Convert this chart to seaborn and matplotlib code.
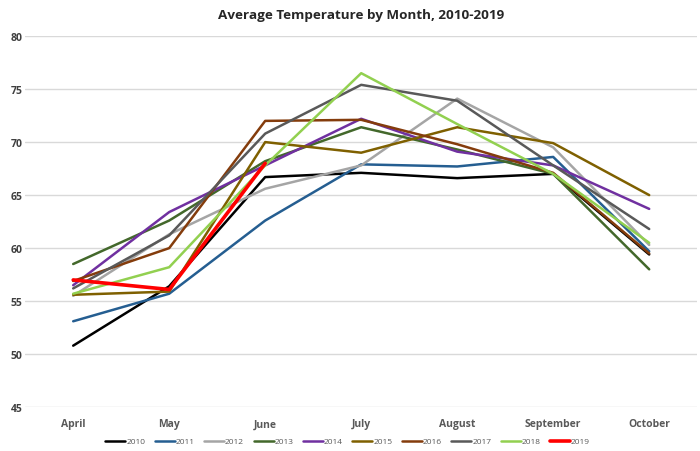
import pandas as pd
import numpy as np
import matplotlib
matplotlib.use('Agg')
import matplotlib.pyplot as plt
import seaborn as sns

sns.set_style('white')
plt.rcParams['font.family'] = ['Open Sans', 'DejaVu Sans']

months = ['April', 'May', 'June', 'July', 'August', 'September', 'October']
t2010 = [50.8, 56.4, 66.7, 67.1, 66.6, 67.0, 59.4]
t2011 = [53.1, 55.7, 62.6, 67.9, 67.7, 68.6, 59.7]
t2012 = [55.5, 61.3, 65.6, 67.8, 74.1, 69.5, 60.3]
t2013 = [58.5, 62.6, 68.2, 71.4, 69.3, 67.0, 58.0]
t2014 = [56.5, 63.4, 67.8, 72.2, 69.1, 67.8, 63.7]
t2015 = [55.6, 55.9, 70.0, 69.0, 71.4, 69.9, 65.0]
t2016 = [56.9, 60.0, 72.0, 72.1, 69.8, 67.1, 59.5]
t2017 = [56.2, 61.2, 70.8, 75.4, 73.9, 67.8, 61.8]
t2018 = [55.7, 58.2, 67.8, 76.5, 71.7, 67.0, 60.5]
t2019 = [57.0, 56.1, 68.0, np.nan, np.nan, np.nan, np.nan]
years = ['2010', '2011', '2012', '2013', '2014', '2015', '2016', '2017', '2018', '2019']
series = [t2010, t2011, t2012, t2013, t2014, t2015, t2016, t2017, t2018, t2019]
colors = ['#000000', '#255e91', '#a5a5a5', '#43682b', '#7030a0',
          '#7f6000', '#843c0c', '#595959', '#92d050', '#ff0000']

rows = []
for y, vals in zip(years, series):
    for m, v in zip(months, vals):
        rows.append({'month': m, 'year': y, 'temp': v})
df = pd.DataFrame(rows)
df['pos'] = df['month'].map({m: i for i, m in enumerate(months)})

fig = plt.figure(figsize=(7, 4.52), dpi=100)
ax = fig.add_axes([0.036, 0.097, 0.96, 0.821])
for y, c in zip(years, colors):
    sub = df[df['year'] == y].dropna()
    sns.lineplot(data=sub, x='pos', y='temp', color=c, label=y, ax=ax,
                 linewidth=2.6 if y == '2019' else 1.8, sort=False)

ax.set_xlim(-0.5, 6.5)
ax.set_ylim(45, 80)
ax.set_xticks(range(len(months)))
ax.set_xticklabels(months, fontsize=7.5, fontweight='bold', color='#595959')
ax.set_yticks(range(45, 81, 5))
ax.tick_params(axis='y', labelsize=7.5, colors='#404040', pad=2)
ax.tick_params(axis='x', pad=8)
for lbl in ax.get_yticklabels():
    lbl.set_fontweight('bold')
ax.tick_params(axis='both', length=0)
ax.set_xlabel('')
ax.set_ylabel('')
ax.grid(axis='y', color='#d9d9d9', linewidth=1)
ax.set_axisbelow(True)
for s in ax.spines.values():
    s.set_visible(False)

ax.set_title('Average Temperature by Month, 2010-2019', fontsize=9.7,
             fontweight='bold', pad=13)

ax.legend(loc='upper center', bbox_to_anchor=(0.48, -0.062), ncol=10,
          frameon=False, fontsize=6, handlelength=2.4, handletextpad=0.1,
          columnspacing=1.15, labelcolor='#595959')

fig.savefig('out.png', dpi=100)
